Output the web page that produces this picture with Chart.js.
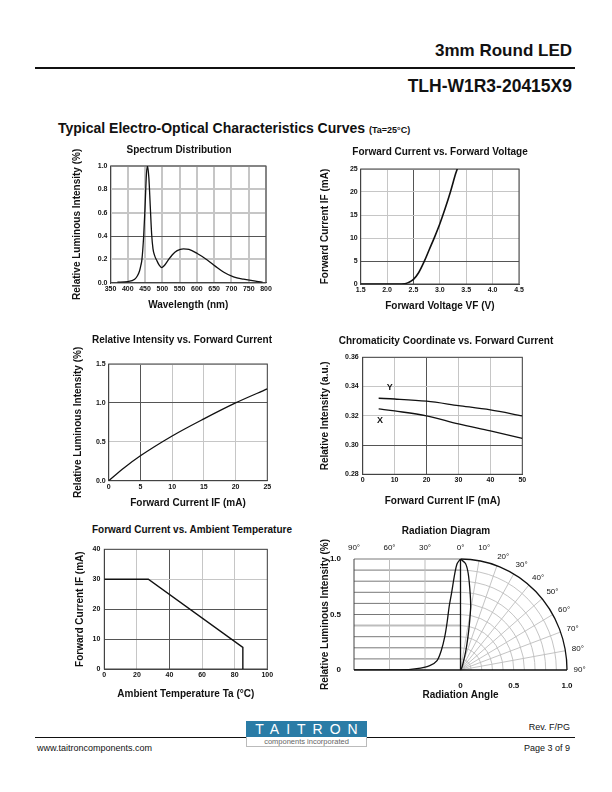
<!DOCTYPE html>
<html>
<head>
<meta charset="utf-8">
<script src="https://cdn.jsdelivr.net/npm/chart.js@4.4.1/dist/chart.umd.min.js"></script>
<style>
  body { margin: 0; background: #fff; font-family: "Liberation Sans", Arial, sans-serif; color: #111; }
  #page { position: relative; width: 612px; height: 792px; overflow: hidden; }
  .t { position: absolute; white-space: nowrap; line-height: 1; z-index: 2; }
  .c { transform: translate(-50%, -50%); }
  .m { transform: translateY(-50%); }
  .b { font-weight: bold; }
  .ct { font-weight: bold; font-size: 10px; }
  .rule { position: absolute; background: #111; }
  canvas { position: absolute; z-index: 1; }
</style>
</head>
<body>
<div id="page">
  <div class="t m b" style="right:40px; top:50px; font-size:17px;">3mm Round LED</div>
  <div class="rule" style="left:35px; top:67px; width:540px; height:2px;"></div>
  <div class="t m b" style="right:40px; top:87px; font-size:17.5px;">TLH-W1R3-20415X9</div>
  <div class="t m b" style="left:58px; top:128px; font-size:14px;">Typical Electro-Optical Characteristics Curves <span style="font-size:9px;">(Ta=25°C)</span></div>

  <div class="t c ct" style="left:179px; top:150px;">Spectrum Distribution</div>
  <div class="t c ct" style="left:440px; top:152px;">Forward Current vs. Forward Voltage</div>
  <div class="t c ct" style="left:182px; top:340px;">Relative Intensity vs. Forward Current</div>
  <div class="t c ct" style="left:446px; top:341px;">Chromaticity Coordinate vs. Forward Current</div>
  <div class="t c ct" style="left:192px; top:530px;">Forward Current vs. Ambient Temperature</div>
  <div class="t c ct" style="left:446px; top:531px;">Radiation Diagram</div>

  <canvas id="c1"></canvas>
  <canvas id="c2"></canvas>
  <canvas id="c3"></canvas>
  <canvas id="c4"></canvas>
  <canvas id="c5"></canvas>
  <canvas id="c6"></canvas>

  <div class="t m" style="right:42px; top:727px; font-size:9px;">Rev. F/PG</div>
  <div class="rule" style="left:35px; top:737px; width:211px; height:1px;"></div>
  <div class="rule" style="left:367px; top:737px; width:208px; height:1px;"></div>
  <div style="position:absolute; left:246px; top:721px; width:121px; height:16px; background:#2a7ca6; color:#fff; font-size:14px; line-height:16px; text-align:center; letter-spacing:7px; text-indent:7px;">TAITRON</div>
  <div style="position:absolute; left:246px; top:737px; width:119px; height:9px; border:1px solid #bbb; border-top:none; color:#666; font-size:7.5px; line-height:9px; text-align:center;">components incorporated</div>
  <div class="t m" style="left:37px; top:748px; font-size:9px;">www.taitroncomponents.com</div>
  <div class="t m" style="right:42px; top:748px; font-size:9px;">Page 3 of 9</div>
</div>

<script>
// Spectrum Distribution
const wavelengthNm = [370, 400, 420, 428, 434, 438, 441, 446, 450, 454, 457, 461, 465, 469, 473, 478, 484, 491, 498, 505, 515, 529, 543, 561, 577, 601, 630, 654, 678, 706, 735, 773, 790];
const spectrumRel = [0.005, 0.01, 0.03, 0.06, 0.1, 0.15, 0.2, 0.4, 0.65, 0.93, 1.0, 0.9, 0.66, 0.42, 0.29, 0.23, 0.19, 0.15, 0.13, 0.145, 0.185, 0.24, 0.275, 0.29, 0.285, 0.25, 0.195, 0.14, 0.09, 0.05, 0.03, 0.012, 0.005];

// Forward Current vs. Forward Voltage
const forwardVoltage = [1.5, 2.2, 2.33, 2.4, 2.5, 2.6, 2.7, 2.8, 2.9, 3.0, 3.1, 3.2, 3.3, 3.33];
const forwardCurrentVf = [0, 0, 0.05, 0.3, 1.0, 2.5, 4.8, 7.5, 10.2, 13.1, 16.4, 20.0, 24.0, 25.0];

// Relative Intensity vs. Forward Current
const relCurrent = [0, 2.5, 5, 10, 15, 20, 25];
const relIntensity = [0, 0.17, 0.32, 0.575, 0.795, 1.0, 1.18];

// Chromaticity Coordinate vs. Forward Current
const chromCurrent = [5, 10, 20, 30, 40, 50];
const chromY = [0.332, 0.3315, 0.330, 0.327, 0.324, 0.320];
const chromX = [0.3247, 0.3233, 0.320, 0.3144, 0.3097, 0.3046];

// Forward Current vs. Ambient Temperature
const ambientTemp = [0, 27, 85, 85];
const ambientCurrent = [30, 30, 7.2, 0];

// Radiation Diagram
const radAngleDeg = [0, 2.8, 4.8, 7.6, 9.6, 11.3, 13.3, 16.1, 19.8, 26, 37, 51.5, 90];
const radRel = [1, 0.96, 0.87, 0.69, 0.57, 0.43, 0.30, 0.18, 0.085, 0.04, 0.012, 0, 0];

const FONT = 'Liberation Sans';
const TICK_FONT = { family: FONT, size: 7, weight: 'bold' };
const TITLE_FONT = { family: FONT, size: 10, weight: 'bold', lineHeight: 1.2 };
const LIGHT = '#c6c6c6';
const DARK = '#555';
const INK = '#111';

function placeCanvas(id, b) {
    const c = document.getElementById(id);
    c.width = b.w;
    c.height = b.h;
    c.style.left = b.x + 'px';
    c.style.top = b.y + 'px';
    return c;
}

function isIn(list, v) {
    return list.some(d => Math.abs(d - v) < 1e-6);
}

function axis(o) {
    return {
        type: 'linear',
        min: o.min,
        max: o.max,
        afterFit: s => {
            if (s.isHorizontal()) s.height = o.size;
            else s.width = o.size;
        },
        ticks: {
            stepSize: o.step,
            font: TICK_FONT,
            color: INK,
            padding: o.pad,
            autoSkip: false,
            maxRotation: 0,
            callback: v => o.fmt(v),
        },
        grid: {
            color: c => (c.tick && isIn(o.dark || [], c.tick.value) ? DARK : LIGHT),
            lineWidth: c => (c.tick && isIn(o.dark || [], c.tick.value) ? 1 : (o.gw || 1)),
            drawTicks: false,
        },
        border: { color: '#444', width: 1 },
        title: { display: true, text: o.title, font: TITLE_FONT, color: INK, padding: 0 },
    };
}

const frame = {
    id: 'frame',
    beforeDatasetsDraw(chart) {
        const { ctx, chartArea: a } = chart;
        ctx.save();
        ctx.strokeStyle = '#444';
        ctx.lineWidth = 1;
        ctx.strokeRect(a.left, a.top, a.right - a.left, a.bottom - a.top);
        ctx.restore();
    },
};

function toPoints(xs, ys) {
    return xs.map((x, i) => ({ x: x, y: ys[i] }));
}

function lineSet(xs, ys, extra) {
    return Object.assign({
        data: toPoints(xs, ys),
        showLine: true,
        borderColor: INK,
        borderWidth: 1.3,
        pointRadius: 0,
        fill: false,
    }, extra || {});
}

function baseOptions(b, scales) {
    return {
        responsive: false,
        animation: false,
        layout: { padding: { left: 0, top: b.padTop, right: b.padRight, bottom: 0 } },
        plugins: { legend: { display: false }, tooltip: { enabled: false } },
        scales: scales,
    };
}

// 1. Spectrum Distribution
const b1 = { x: 71, y: 140, w: 209, h: 171, padTop: 26, padRight: 14 };
new Chart(placeCanvas('c1', b1), {
    type: 'scatter',
    data: { datasets: [lineSet(wavelengthNm, spectrumRel, { cubicInterpolationMode: 'monotone' })] },
    options: baseOptions(b1, {
        x: axis({ min: 350, max: 800, step: 50, size: 28.3, pad: 2, gw: 2, fmt: v => String(v), title: 'Wavelength (nm)' }),
        y: axis({ min: 0, max: 1, step: 0.2, size: 39.5, pad: 3, gw: 2, dark: [0.4], fmt: v => v.toFixed(1), title: 'Relative Luminous Intensity (%)' }),
    }),
    plugins: [frame],
});

// 2. Forward Current vs. Forward Voltage
const b2 = { x: 319, y: 161, w: 214, h: 151, padTop: 8, padRight: 14 };
new Chart(placeCanvas('c2', b2), {
    type: 'scatter',
    data: { datasets: [lineSet(forwardVoltage, forwardCurrentVf, { cubicInterpolationMode: 'monotone', borderWidth: 1.6 })] },
    options: baseOptions(b2, {
        x: axis({ min: 1.5, max: 4.5, step: 0.5, size: 28, pad: 2, dark: [2.5], fmt: v => v.toFixed(1), title: 'Forward Voltage VF (V)' }),
        y: axis({ min: 0, max: 25, step: 5, size: 41.7, pad: 3, dark: [5], fmt: v => String(v), title: 'Forward Current IF (mA)' }),
    }),
    plugins: [frame],
});

// 3. Relative Intensity vs. Forward Current
const b3 = { x: 72, y: 338, w: 210, h: 171, padTop: 26, padRight: 14.7 };
new Chart(placeCanvas('c3', b3), {
    type: 'scatter',
    data: { datasets: [lineSet(relCurrent, relIntensity, { cubicInterpolationMode: 'monotone' })] },
    options: baseOptions(b3, {
        x: axis({ min: 0, max: 25, step: 5, size: 28.3, pad: 2, dark: [5], fmt: v => String(v), title: 'Forward Current IF (mA)' }),
        y: axis({ min: 0, max: 1.5, step: 0.5, size: 36.7, pad: 3, dark: [1.0], fmt: v => v.toFixed(1), title: 'Relative Luminous Intensity (%)' }),
    }),
    plugins: [frame],
});

// 4. Chromaticity Coordinate vs. Forward Current
const chromLabels = {
    id: 'chromLabels',
    afterDatasetsDraw(chart) {
        const { ctx, scales: { x, y } } = chart;
        ctx.save();
        ctx.font = 'bold 9px "Liberation Sans"';
        ctx.fillStyle = INK;
        ctx.textAlign = 'center';
        ctx.textBaseline = 'middle';
        ctx.fillText('Y', x.getPixelForValue(8.5), y.getPixelForValue(0.339));
        ctx.fillText('X', x.getPixelForValue(5.4), y.getPixelForValue(0.317));
        ctx.restore();
    },
};
const b4 = { x: 319, y: 349, w: 218, h: 158, padTop: 8.3, padRight: 14.7 };
new Chart(placeCanvas('c4', b4), {
    type: 'scatter',
    data: {
        datasets: [
            lineSet(chromCurrent, chromY, { cubicInterpolationMode: 'monotone' }),
            lineSet(chromCurrent, chromX, { cubicInterpolationMode: 'monotone' }),
        ],
    },
    options: baseOptions(b4, {
        x: axis({ min: 0, max: 50, step: 10, size: 32.7, pad: 2, dark: [20], fmt: v => String(v), title: 'Forward Current IF (mA)' }),
        y: axis({ min: 0.28, max: 0.36, step: 0.02, size: 43.7, pad: 4, dark: [0.30], fmt: v => v.toFixed(2), title: 'Relative Intensity (a.u.)' }),
    }),
    plugins: [frame, chromLabels],
});

// 5. Forward Current vs. Ambient Temperature
const b5 = { x: 74, y: 541, w: 208, h: 159, padTop: 8.3, padRight: 14.7 };
new Chart(placeCanvas('c5', b5), {
    type: 'scatter',
    data: { datasets: [lineSet(ambientTemp, ambientCurrent, { borderWidth: 1.4 })] },
    options: baseOptions(b5, {
        x: axis({ min: 0, max: 100, step: 20, size: 31, pad: 2, dark: [40], fmt: v => String(v), title: 'Ambient Temperature Ta (°C)' }),
        y: axis({ min: 0, max: 40, step: 10, size: 30.3, pad: 4, dark: [10, 20], fmt: v => String(v), title: 'Forward Current IF (mA)' }),
    }),
    plugins: [frame],
});

// 6. Radiation Diagram
const leftCurve = toPoints(radAngleDeg.map(a => -a / 90), radRel);
const rightLobe = radAngleDeg.map((a, i) => ({
    x: radRel[i] * Math.sin(a * Math.PI / 180),
    y: radRel[i] * Math.cos(a * Math.PI / 180),
}));

function strokeLine(ctx, x1, y1, x2, y2) {
    ctx.beginPath();
    ctx.moveTo(x1, y1);
    ctx.lineTo(x2, y2);
    ctx.stroke();
}

const polarGrid = {
    id: 'polarGrid',
    beforeDatasetsDraw(chart) {
        const { ctx, scales: { x, y } } = chart;
        const ox = x.getPixelForValue(0), oy = y.getPixelForValue(0);
        const rx = x.getPixelForValue(1) - ox, ry = oy - y.getPixelForValue(1);
        ctx.save();
        // left half: intensity vs angle, rectangular grid
        for (let k = 1; k <= 10; k++) {
            const py = y.getPixelForValue(k / 10);
            ctx.strokeStyle = k === 4 ? '#bdbdbd' : '#555';
            ctx.lineWidth = k === 4 ? 2 : 0.8;
            strokeLine(ctx, x.getPixelForValue(-1), py, ox, py);
        }
        ctx.strokeStyle = '#bdbdbd';
        ctx.lineWidth = 1;
        [-2 / 3, -1 / 3].forEach(v => strokeLine(ctx, x.getPixelForValue(v), oy, x.getPixelForValue(v), y.getPixelForValue(1)));
        ctx.strokeStyle = '#444';
        strokeLine(ctx, x.getPixelForValue(-1), oy, x.getPixelForValue(-1), y.getPixelForValue(1));
        // right half: polar grid
        ctx.strokeStyle = '#bdbdbd';
        ctx.lineWidth = 0.9;
        for (let k = 1; k <= 9; k++) {
            ctx.beginPath();
            ctx.ellipse(ox, oy, rx * k / 10, ry * k / 10, 0, -Math.PI / 2, 0);
            ctx.stroke();
        }
        for (let d = 10; d <= 80; d += 10) {
            const t = d * Math.PI / 180;
            strokeLine(ctx, ox, oy, ox + rx * Math.sin(t), oy - ry * Math.cos(t));
        }
        ctx.strokeStyle = INK;
        ctx.lineWidth = 1.3;
        ctx.beginPath();
        ctx.ellipse(ox, oy, rx, ry, 0, -Math.PI / 2, 0);
        ctx.stroke();
        strokeLine(ctx, ox, oy, ox, y.getPixelForValue(1));
        ctx.lineWidth = 1.6;
        strokeLine(ctx, x.getPixelForValue(-1), oy, x.getPixelForValue(1), oy);
        ctx.restore();
    },
    afterDraw(chart) {
        const { ctx, scales: { x, y } } = chart;
        const ox = x.getPixelForValue(0), oy = y.getPixelForValue(0);
        const rx = x.getPixelForValue(1) - ox, ry = oy - y.getPixelForValue(1);
        ctx.save();
        ctx.font = '8px "Liberation Sans"';
        ctx.fillStyle = INK;
        ctx.textAlign = 'center';
        ctx.textBaseline = 'middle';
        const top = y.getPixelForValue(1) - 11;
        [[-1, '90°'], [-2 / 3, '60°'], [-1 / 3, '30°'], [0, '0°']].forEach(([v, s]) => ctx.fillText(s, x.getPixelForValue(v), top));
        for (let d = 10; d <= 90; d += 10) {
            const t = d * Math.PI / 180;
            const r = d === 10 ? 1.12 : 1.09;
            ctx.fillText(d + '°', ox + rx * r * Math.sin(t) + 3, oy - ry * r * Math.cos(t));
        }
        ctx.restore();
    },
};

const radTicks = s => { s.ticks = [{ value: 0 }, { value: 0.5 }, { value: 1 }]; };
const radFmt = v => (v === 0 ? '0' : v.toFixed(1));
const b6 = { x: 319, y: 535, w: 271, h: 166, padTop: 24, padRight: 23 };
new Chart(placeCanvas('c6', b6), {
    type: 'scatter',
    data: {
        datasets: [
            lineSet(leftCurve.map(p => p.x), leftCurve.map(p => p.y), { tension: 0.3 }),
            lineSet(rightLobe.map(p => p.x), rightLobe.map(p => p.y), { tension: 0.3 }),
        ],
    },
    options: baseOptions(b6, {
        x: {
            type: 'linear', min: -1, max: 1,
            afterFit: s => { s.height = 31; },
            afterBuildTicks: radTicks,
            ticks: { font: { family: FONT, size: 8, weight: 'bold' }, color: INK, padding: 3, maxRotation: 0, autoSkip: false, callback: radFmt },
            grid: { display: false },
            border: { display: false },
            title: { display: true, text: 'Radiation Angle', font: TITLE_FONT, color: INK, padding: 0 },
        },
        y: {
            type: 'linear', min: 0, max: 1,
            afterFit: s => { s.width = 35; },
            afterBuildTicks: radTicks,
            ticks: { font: { family: FONT, size: 8, weight: 'bold' }, color: INK, padding: 5, autoSkip: false, callback: radFmt },
            grid: { display: false },
            border: { display: false },
            title: { display: true, text: 'Relative Luminous Intensity (%)', font: TITLE_FONT, color: INK, padding: 0 },
        },
    }),
    plugins: [polarGrid],
});
</script>
</body>
</html>
